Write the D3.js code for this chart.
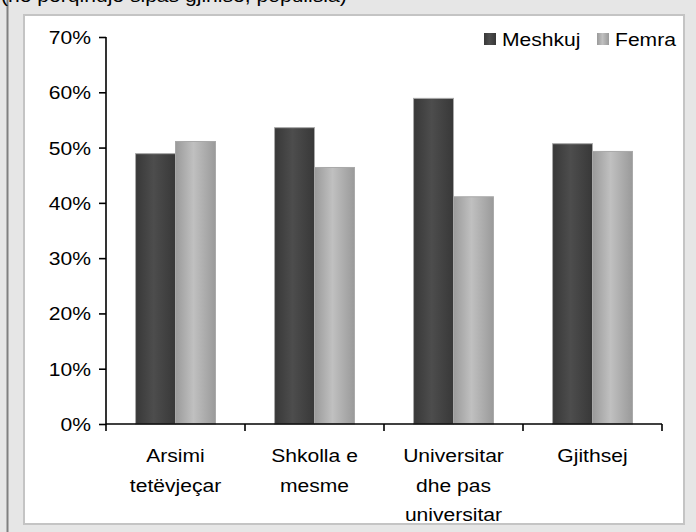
<!DOCTYPE html>
<html><head><meta charset="utf-8">
<script src="https://cdn.jsdelivr.net/npm/d3@7"></script>
<style>html,body{margin:0;padding:0;background:#e6e6e6;}svg{display:block;}</style>
</head><body>
<script>
const categories = [["Arsimi","tetëvjeçar"],["Shkolla e","mesme"],["Universitar","dhe pas","universitar"],["Gjithsej"]];
const seriesNames = ["Meshkuj","Femra"];
const meshkuj = [48.9, 53.6, 58.9, 50.7];
const femra = [51.1, 46.4, 41.1, 49.3];
const yTicks = [0,10,20,30,40,50,60,70];
const titleText = "(në përqindje sipas gjinisë, popullsia)";

const W=696,H=532;
const svg=d3.select("body").append("svg").attr("width",W).attr("height",H);
const defs=svg.append("defs");
function grad(id,edge,mid){
  const g=defs.append("linearGradient").attr("id",id).attr("x1","0").attr("x2","1").attr("y1","0").attr("y2","0");
  g.append("stop").attr("offset","0").attr("stop-color",edge);
  g.append("stop").attr("offset","0.45").attr("stop-color",mid);
  g.append("stop").attr("offset","1").attr("stop-color",edge);
}
grad("gDark","#383838","#4d4d4d");
grad("gLight","#9a9a9a","#c0c0c0");

svg.append("rect").attr("x",0).attr("y",0).attr("width",W).attr("height",H).attr("fill","#e6e6e6");
svg.append("line").attr("x1",7.5).attr("x2",7.5).attr("y1",0).attr("y2",H).attr("stroke","#808080").attr("stroke-width",2);
svg.append("rect").attr("x",24).attr("y",15).attr("width",660).attr("height",509).attr("fill","#fff").attr("stroke","#c4c4c4").attr("stroke-width",2);

const SX=1.14, FS=18.5;
function txt(g,x,y,s,anchor){
  return g.append("text").attr("transform",`translate(${x},${y}) scale(${SX},1)`)
    .attr("text-anchor",anchor||"start").attr("font-family","Liberation Sans, Arial, sans-serif")
    .attr("font-size",FS).attr("fill","#000").text(s);
}
txt(svg,1,1.5,titleText,"start");

const x0=d3.scaleBand().domain(d3.range(categories.length)).range([106,662]).paddingInner(0).paddingOuter(0);
const x1=d3.scaleBand().domain([0,1]).range([0,x0.bandwidth()]).paddingOuter(0.74).paddingInner(0);
const y=d3.scaleLinear().domain([0,70]).range([424,37]);

const data=[meshkuj,femra];
const fills=["url(#gDark)","url(#gLight)"];
data.forEach((vals,si)=>{
  svg.append("g").selectAll("rect").data(vals).join("rect")
    .attr("x",(d,i)=>x0(i)+x1(si)).attr("width",x1.bandwidth())
    .attr("y",d=>y(d)).attr("height",d=>y(0)-y(d))
    .attr("fill",fills[si]).attr("stroke","#a8a8a8").attr("stroke-width",1);
});

// y axis
const ya=svg.append("g").attr("transform","translate(106,0)")
  .call(d3.axisLeft(y).tickValues(yTicks).tickSize(7).tickFormat(""));
ya.selectAll("path,line").attr("stroke","#000").attr("stroke-width",1.6);
ya.select(".domain").attr("d","M0,37V424");
yTicks.forEach(t=>txt(svg,91,y(t)+7,t+"%","end"));

// x axis
const xa=svg.append("g").attr("transform","translate(0,424)");
xa.append("line").attr("x1",106).attr("x2",662).attr("stroke","#000").attr("stroke-width",1.6);
const bounds=d3.range(categories.length+1).map(i=>i<categories.length?x0(i):x0(categories.length-1)+x0.bandwidth());
xa.selectAll("line.t").data(bounds).join("line").attr("class","t")
  .attr("x1",d=>d).attr("x2",d=>d).attr("y1",0).attr("y2",7).attr("stroke","#000").attr("stroke-width",1.6);
categories.forEach((lines,i)=>{
  lines.forEach((l,j)=>txt(svg,x0(i)+x0.bandwidth()/2,462+j*29.5,l,"middle"));
});

// legend
const lg=[{x:484,name:seriesNames[0],f:fills[0]},{x:597,name:seriesNames[1],f:fills[1]}];
lg.forEach(o=>{
  svg.append("rect").attr("x",o.x).attr("y",33).attr("width",12).attr("height",12).attr("fill",o.f);
  txt(svg,o.x+18,46,o.name,"start");
});
</script>
</body></html>
